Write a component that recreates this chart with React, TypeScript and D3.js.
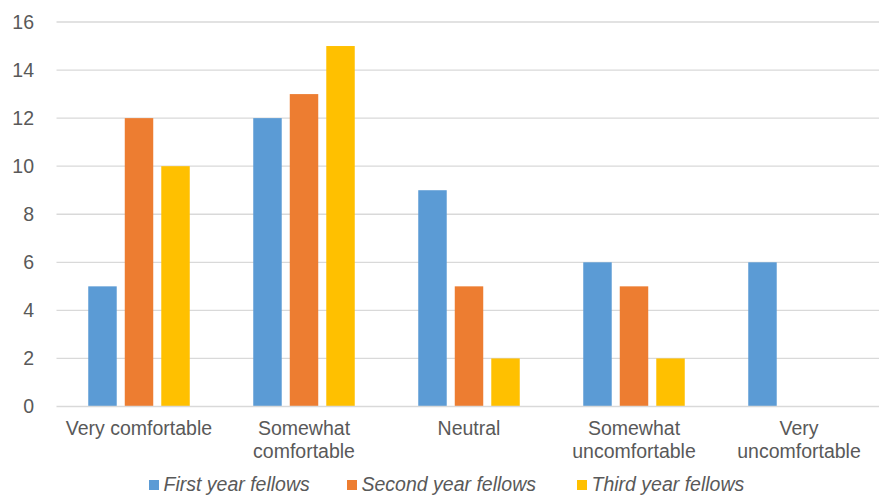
import { useEffect, useRef } from 'react';
import * as d3 from 'd3';

const categories = [
  'Very comfortable',
  'Somewhat comfortable',
  'Neutral',
  'Somewhat uncomfortable',
  'Very uncomfortable',
];
// label lines as they wrap on the axis
const categoryLines: string[][] = [
  ['Very comfortable'],
  ['Somewhat', 'comfortable'],
  ['Neutral'],
  ['Somewhat', 'uncomfortable'],
  ['Very', 'uncomfortable'],
];
const seriesNames = ['First year fellows', 'Second year fellows', 'Third year fellows'];
const seriesColors = ['#5b9bd5', '#ed7d31', '#ffc000'];
const firstYear = [5, 12, 9, 6, 6];
const secondYear = [12, 13, 5, 5, 0];
const thirdYear = [10, 15, 2, 2, 0];
const yTicks = [0, 2, 4, 6, 8, 10, 12, 14, 16];

const W = 879;
const H = 495;
const FONT = '"Liberation Sans", Arial, sans-serif';
const TEXT = '#595959';
const FS = 19.5;

export default function App() {
  const svgRef = useRef<SVGSVGElement>(null);

  useEffect(() => {
    const svg = svgRef.current;
    if (!svg) return;
    const sel = d3.select(svg);
    sel.selectAll('*').remove();

    const values = [firstYear, secondYear, thirdYear];
    const plot = { left: 56.5, right: 881.5, top: 22, bottom: 406.5 };

    const x0 = d3.scaleBand<string>().domain(categories).range([plot.left, plot.right]);
    const x1 = d3.scaleBand<string>()
      .domain(seriesNames)
      .range([31.75, x0.bandwidth() - 31.75])
      .paddingInner(0.22);
    const y = d3.scaleLinear().domain([0, 16]).range([plot.bottom, plot.top]);

    // gridlines
    sel.append('g')
      .selectAll('line')
      .data(yTicks.slice(1))
      .join('line')
      .attr('x1', plot.left)
      .attr('x2', W)
      .attr('y1', (d) => y(d))
      .attr('y2', (d) => y(d))
      .attr('stroke', '#d9d9d9')
      .attr('stroke-width', 1.3);

    // y tick labels
    sel.append('g')
      .selectAll('text')
      .data(yTicks)
      .join('text')
      .attr('x', 34)
      .attr('y', (d) => y(d))
      .attr('dy', '0.35em')
      .attr('text-anchor', 'end')
      .attr('font-family', FONT)
      .attr('font-size', FS)
      .attr('fill', TEXT)
      .text((d) => d);

    // bars
    values.forEach((vals, si) => {
      sel.append('g')
        .selectAll('rect')
        .data(vals.map((v, ci) => ({ v, cat: categories[ci] })))
        .join('rect')
        .attr('x', (d) => (x0(d.cat) ?? 0) + (x1(seriesNames[si]) ?? 0))
        .attr('y', (d) => y(d.v))
        .attr('width', x1.bandwidth())
        .attr('height', (d) => y(0) - y(d.v))
        .attr('fill', seriesColors[si]);
    });

    // baseline
    sel.append('line')
      .attr('x1', plot.left)
      .attr('x2', W)
      .attr('y1', y(0))
      .attr('y2', y(0))
      .attr('stroke', '#d9d9d9')
      .attr('stroke-width', 1.3);

    // category labels
    categories.forEach((cat, i) => {
      const cx = (x0(cat) ?? 0) + x0.bandwidth() / 2;
      const t = sel.append('text')
        .attr('text-anchor', 'middle')
        .attr('font-family', FONT)
        .attr('font-size', FS)
        .attr('fill', TEXT);
      categoryLines[i].forEach((line, li) => {
        t.append('tspan').attr('x', cx).attr('y', 435 + li * 23).text(line);
      });
    });

    // legend (item starts as laid out in the original)
    const legendX = [149, 347, 577];
    seriesNames.forEach((name, i) => {
      sel.append('rect')
        .attr('x', legendX[i])
        .attr('y', 480)
        .attr('width', 10)
        .attr('height', 10)
        .attr('fill', seriesColors[i]);
      sel.append('text')
        .attr('x', legendX[i] + 14.5)
        .attr('y', 491)
        .attr('font-family', FONT)
        .attr('font-size', FS)
        .attr('font-style', 'italic')
        .attr('fill', TEXT)
        .text(name);
    });
  }, []);

  return (
    <svg
      ref={svgRef}
      width={W}
      height={H}
      style={{ position: 'absolute', left: 0, top: 0, background: '#fff' }}
    />
  );
}
